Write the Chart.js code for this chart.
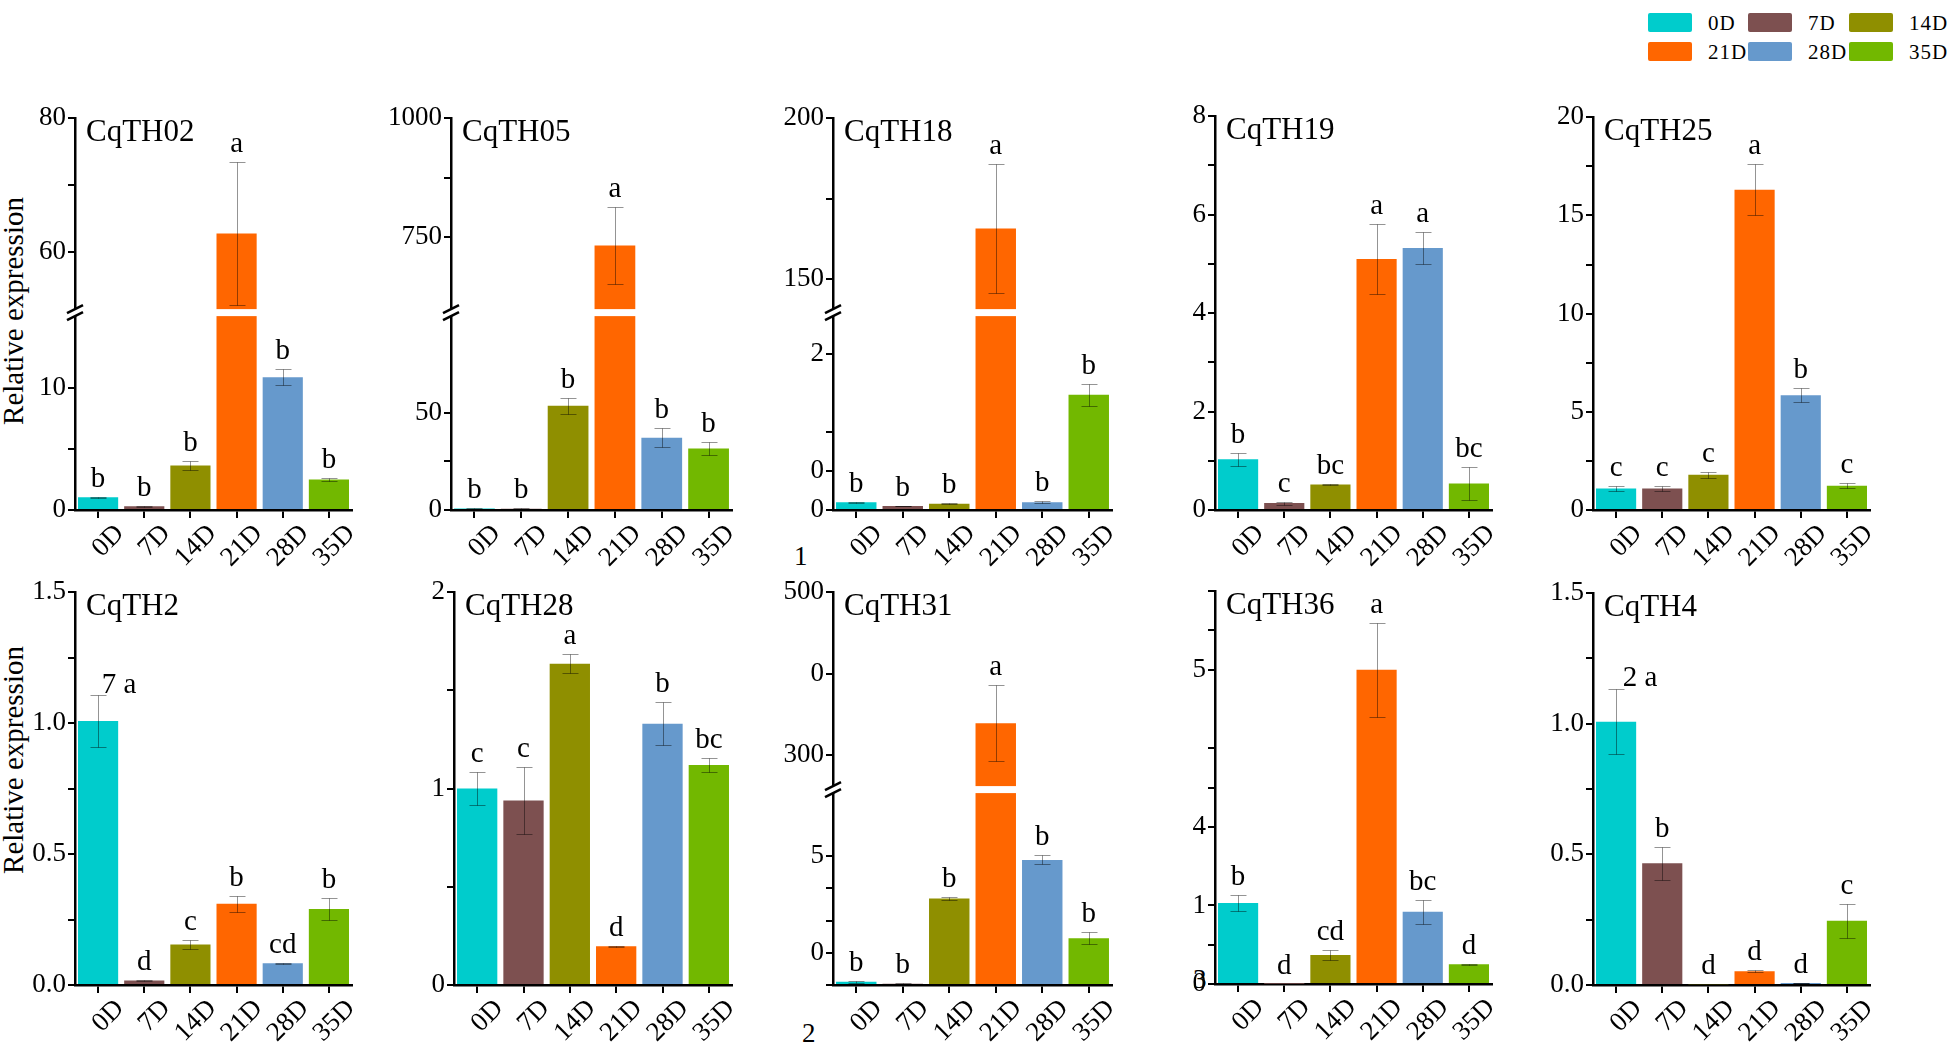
<!DOCTYPE html>
<html><head><meta charset="utf-8">
<script src="https://cdn.jsdelivr.net/npm/chart.js@4.4.0/dist/chart.umd.min.js"></script>
<style>
html,body{margin:0;padding:0;background:#fff}
body{width:1951px;height:1044px;position:relative;overflow:hidden;font-family:"Liberation Serif","DejaVu Serif",serif}
canvas{position:absolute}
.txt{position:absolute;color:#000;white-space:nowrap;line-height:1}
.sw{position:absolute;width:44px;height:19px;border-radius:2px}
.lt{position:absolute;font-family:"Liberation Serif","DejaVu Serif",serif;font-size:21px;letter-spacing:1px;line-height:20px;color:#000}
.ytitle{position:absolute;font-size:29px;transform:translate(-50%,-50%) rotate(-90deg);white-space:nowrap}
</style></head><body>
<div class="ytitle" style="left:13px;top:311px">Relative expression</div>
<div class="ytitle" style="left:13px;top:760px">Relative expression</div>
<div class="txt" style="left:794px;top:543px;font-size:27px">1</div>
<div class="txt" style="left:802px;top:1020px;font-size:27px">2</div>
<div class="txt" style="left:1193px;top:966px;font-size:27px">3</div>
<div id="legend"></div>
<script>
// ---------- data ----------
const categories = ['0D','7D','14D','21D','28D','35D'];
const barColors = ['#00cccc','#7d5050','#8f8f00','#ff6600','#6699cc','#72b800'];
const genes = ['CqTH02','CqTH05','CqTH18','CqTH19','CqTH25','CqTH2','CqTH28','CqTH31','CqTH36','CqTH4'];

const meanTH02 = [1.05, 0.3, 3.66, 62.8, 10.9, 2.5];
const sdTH02   = [0.05, 0.05, 0.4, 10.7, 0.65, 0.12];
const sigTH02  = ['b','b','b','a','b','b'];

const meanTH05 = [0.8, 0.7, 53.6, 733, 37.2, 31.6];
const sdTH05   = [0.15, 0.15, 4, 80, 4.9, 3.5];
const sigTH05  = ['b','b','b','a','b','b'];

const meanTH18 = [0.1, 0.05, 0.08, 165.7, 0.1, 1.48];
const sdTH18   = [0.005, 0.005, 0.005, 20, 0.01, 0.14];
const sigTH18  = ['b','b','b','a','b','b'];

const meanTH19 = [1.03, 0.14, 0.52, 5.1, 5.32, 0.54];
const sdTH19   = [0.13, 0.03, 0.015, 0.72, 0.32, 0.34];
const sigTH19  = ['b','c','bc','a','a','bc'];

const meanTH25 = [1.1, 1.1, 1.8, 16.3, 5.84, 1.24];
const sdTH25   = [0.13, 0.13, 0.15, 1.3, 0.35, 0.12];
const sigTH25  = ['c','c','c','a','b','c'];

const meanTH2 = [1.008, 0.017, 0.155, 0.31, 0.083, 0.29];
const sdTH2   = [0.1, 0.002, 0.017, 0.03, 0.002, 0.042];
const sigTH2  = ['7 a','d','c','b','cd','b'];

const meanTH28 = [1.0, 0.94, 1.636, 0.197, 1.33, 1.12];
const sdTH28   = [0.083, 0.17, 0.047, 0.004, 0.11, 0.035];
const sigTH28  = ['c','c','a','d','b','bc'];

const meanTH31 = [0.1, 0.04, 2.68, 339, 3.88, 1.45];
const sdTH31   = [0.03, 0.01, 0.05, 47, 0.14, 0.18];
const sigTH31  = ['b','b','b','a','b','b'];

const meanTH36 = [1.03, 0.003, 0.37, 4.0, 0.92, 0.25];
const sdTH36   = [0.1, 0, 0.06, 0.6, 0.15, 0.008];
const sigTH36  = ['b','d','cd','a','bc','d'];

const meanTH4 = [1.008, 0.466, 0.003, 0.053, 0.008, 0.246];
const sdTH4   = [0.125, 0.063, 0, 0.005, 0.001, 0.065];
const sigTH4  = ['2 a','b','d','d','d','c'];

// tick values / labels
const ticksTH02Low = [0, 5, 10];          const labelsTH02Low = ['0','','10'];
const ticksTH02High = [60, 70, 80];       const labelsTH02High = ['60','','80'];
const ticksTH05Low = [0, 25, 50];         const labelsTH05Low = ['0','','50'];
const ticksTH05High = [750, 875, 1000];   const labelsTH05High = ['750','','1000'];
const ticksTH18Low = [0, 0.5, 1, 2];      const labelsTH18Low = ['0','0','','2'];
const ticksTH18High = [150, 175, 200];    const labelsTH18High = ['150','','200'];
const ticksTH19 = [0,1,2,3,4,5,6,7,8];    const labelsTH19 = ['0','','2','','4','','6','','8'];
const ticksTH25 = [0,2.5,5,7.5,10,12.5,15,17.5,20]; const labelsTH25 = ['0','','5','','10','','15','','20'];
const ticksTH2 = [0,0.25,0.5,0.75,1,1.25,1.5];      const labelsTH2 = ['0.0','','0.5','','1.0','','1.5'];
const ticksTH28 = [0,0.5,1,1.5,2];        const labelsTH28 = ['0','','1','','2'];
const ticksTH31Low = [0,1,2,3,4];         const labelsTH31Low = ['','0','','','5'];
const ticksTH31High = [300,400,500];      const labelsTH31High = ['300','0','500'];
const ticksTH36 = [0,0.5,1,2,2.5,3,4,4.5,5]; const labelsTH36 = ['0','','1','4','','','5','',''];
const ticksTH4 = [0,0.25,0.5,0.75,1,1.25,1.5];      const labelsTH4 = ['0.0','','0.5','','1.0','','1.5'];

// ---------- panel layout ----------
const panels = [
 {gene:genes[0], mean:meanTH02, sd:sdTH02, sig:sigTH02, axisX:75,   right:352,  top:115, bottom:510, breakY:311,
  low:{min:0,max:16.2,ticks:ticksTH02Low,labels:labelsTH02Low}, high:{min:51,max:80,ticks:ticksTH02High,labels:labelsTH02High}},
 {gene:genes[1], mean:meanTH05, sd:sdTH05, sig:sigTH05, axisX:451,  right:732,  top:115, bottom:510, breakY:311,
  low:{min:0,max:101.5,ticks:ticksTH05Low,labels:labelsTH05Low}, high:{min:592,max:1000,ticks:ticksTH05High,labels:labelsTH05High}},
 {gene:genes[2], mean:meanTH18, sd:sdTH18, sig:sigTH18, axisX:833,  right:1112, top:115, bottom:510, breakY:311,
  low:{min:0,max:2.535,ticks:ticksTH18Low,labels:labelsTH18Low}, high:{min:139.5,max:200,ticks:ticksTH18High,labels:labelsTH18High}},
 {gene:genes[3], mean:meanTH19, sd:sdTH19, sig:sigTH19, axisX:1215, right:1492, top:113, bottom:510,
  low:{min:0,max:8,ticks:ticksTH19,labels:labelsTH19}},
 {gene:genes[4], mean:meanTH25, sd:sdTH25, sig:sigTH25, axisX:1593, right:1870, top:114, bottom:510,
  low:{min:0,max:20,ticks:ticksTH25,labels:labelsTH25}},
 {gene:genes[5], mean:meanTH2, sd:sdTH2, sig:sigTH2, axisX:75,   right:352,  top:589, bottom:985, shift:{0:[21,8]},
  low:{min:0,max:1.5,ticks:ticksTH2,labels:labelsTH2}},
 {gene:genes[6], mean:meanTH28, sd:sdTH28, sig:sigTH28, axisX:454,  right:732,  top:589, bottom:985,
  low:{min:0,max:2,ticks:ticksTH28,labels:labelsTH28}},
 {gene:genes[7], mean:meanTH31, sd:sdTH31, sig:sigTH31, axisX:833,  right:1112, top:589, bottom:985, breakY:788,
  low:{min:0,max:6.06,ticks:ticksTH31Low,labels:labelsTH31Low}, high:{min:257.3,max:500,ticks:ticksTH31High,labels:labelsTH31High}},
 {gene:genes[8], mean:meanTH36, sd:sdTH36, sig:sigTH36, axisX:1215, right:1492, top:588, bottom:984,
  low:{min:0,max:5,ticks:ticksTH36,labels:labelsTH36}},
 {gene:genes[9], mean:meanTH4, sd:sdTH4, sig:sigTH4, axisX:1593, right:1870, top:590, bottom:985, shift:{0:[24,7]},
  low:{min:0,max:1.5,ticks:ticksTH4,labels:labelsTH4}}
];

const Y_W = 75, X_H = 75, PAD_T = 15, PAD_R = 40;
const SERIF = '"Liberation Serif", "DejaVu Serif", serif';

// legend
(function(){
  const lg = document.getElementById('legend');
  const cx = [1648, 1748, 1849], ry = [13, 42];
  categories.forEach((c, i) => {
    const x = cx[i % 3], y = ry[Math.floor(i / 3)];
    const s = document.createElement('div'); s.className = 'sw';
    s.style.left = x + 'px'; s.style.top = y + 'px'; s.style.background = barColors[i];
    const t = document.createElement('div'); t.className = 'lt';
    t.style.left = (x + 60) + 'px'; t.style.top = y + 'px'; t.textContent = c;
    lg.appendChild(s); lg.appendChild(t);
  });
})();

function yAxis(seg, extra) {
  return Object.assign({
    type: 'linear', position: 'left', min: seg.min, max: seg.max,
    afterBuildTicks: s => { s.ticks = seg.ticks.map(v => ({value: v})); },
    afterFit: s => { s.width = Y_W; },
    ticks: { autoSkip: false, color: '#000', padding: 2, font: {family: SERIF, size: 27},
             callback: (v, i) => seg.labels[i] },
    grid: { drawOnChartArea: false, drawTicks: true, tickLength: 7, color: '#000', lineWidth: 2 },
    border: { display: true, color: '#000', width: 2.5 }
  }, extra || {});
}

const deco = {
  id: 'deco',
  afterDatasetsDraw(chart, args, o) {
    const p = o.panel;
    const ctx = chart.ctx, ca = chart.chartArea, xs = chart.scales.x;
    const yl = chart.scales.y, yh = chart.scales.yHigh;
    const pix = v => {
      if (yh && v >= yh.min) return yh.getPixelForValue(v);
      if (yh && v > yl.max) return yl.top;
      return yl.getPixelForValue(v);
    };
    ctx.save();
    if (yh) {
      const b = yl.top;
      ctx.fillStyle = '#fff';
      ctx.fillRect(ca.left - 2, b - 3.5, ca.right - ca.left + 2, 7);
      ctx.strokeStyle = '#000'; ctx.lineWidth = 2.5;
      for (const d of [-3.5, 3.5]) {
        ctx.beginPath(); ctx.moveTo(ca.left - 8, b + d + 4); ctx.lineTo(ca.left + 8, b + d - 4); ctx.stroke();
      }
    }
    // error bars
    ctx.strokeStyle = 'rgba(0,0,0,0.42)'; ctx.lineWidth = 1;
    p.mean.forEach((m, i) => {
      const s = p.sd[i]; if (!s) return;
      const x = Math.round(xs.getPixelForValue(i)) + 0.5;
      const yt = Math.round(pix(m + s)) + 0.5, yb = Math.round(pix(Math.max(0, m - s))) + 0.5;
      ctx.beginPath();
      ctx.moveTo(x, yt); ctx.lineTo(x, yb);
      ctx.moveTo(x - 8, yt); ctx.lineTo(x + 8, yt);
      ctx.moveTo(x - 8, yb); ctx.lineTo(x + 8, yb);
      ctx.stroke();
    });
    // significance letters
    ctx.fillStyle = '#000'; ctx.font = '29px ' + SERIF; ctx.textAlign = 'center'; ctx.textBaseline = 'alphabetic';
    p.sig.forEach((t, i) => {
      const sh = (p.shift && p.shift[i]) || [0, 0];
      const x = xs.getPixelForValue(i) + sh[0];
      const y = pix(p.mean[i] + p.sd[i]) - 10 + sh[1];
      ctx.fillText(t, x, y);
    });
    // panel title
    ctx.textAlign = 'left'; ctx.font = '31px ' + SERIF;
    ctx.fillText(p.gene, ca.left + 11, ca.top + 23);
    ctx.restore();
  }
};

panels.forEach(p => {
  const cv = document.createElement('canvas');
  const W = Y_W + (p.right - p.axisX) + PAD_R, H = PAD_T + (p.bottom - p.top) + X_H;
  cv.width = W; cv.height = H;
  cv.style.left = (p.axisX - Y_W) + 'px'; cv.style.top = (p.top - PAD_T) + 'px';
  document.body.appendChild(cv);

  const common = { backgroundColor: barColors, borderWidth: 0, barPercentage: 0.87, categoryPercentage: 1, grouped: false };
  const datasets = [];
  const scales = {
    x: {
      type: 'category', labels: categories, offset: true,
      afterFit: s => { s.height = X_H; },
      grid: { offset: false, drawOnChartArea: false, drawTicks: true, tickLength: 8, color: '#000', lineWidth: 2 },
      border: { display: true, color: '#000', width: 2.5 },
      ticks: { autoSkip: false, maxRotation: 45, minRotation: 45, color: '#000', padding: 0, labelOffset: 22,
               font: {family: SERIF, size: 27} }
    }
  };
  if (p.high) {
    datasets.push(Object.assign({ data: p.mean.map(v => Math.min(v, p.low.max)), yAxisID: 'y' }, common));
    datasets.push(Object.assign({ data: p.mean.map(v => v > p.high.min ? [p.high.min, v] : null), yAxisID: 'yHigh' }, common));
    scales.y = yAxis(p.low, { stack: 'ys', stackWeight: p.bottom - p.breakY, weight: 0 });
    scales.yHigh = yAxis(p.high, { stack: 'ys', stackWeight: p.breakY - p.top, weight: 1 });
  } else {
    datasets.push(Object.assign({ data: p.mean, yAxisID: 'y' }, common));
    scales.y = yAxis(p.low);
  }
  new Chart(cv, {
    type: 'bar',
    data: { labels: categories, datasets },
    options: {
      responsive: false, animation: false, devicePixelRatio: 1,
      layout: { autoPadding: false, padding: { top: PAD_T, right: PAD_R, left: 0, bottom: 0 } },
      plugins: { legend: { display: false }, tooltip: { enabled: false }, title: { display: false }, deco: { panel: p } },
      scales
    },
    plugins: [deco]
  });
});
</script>
</body></html>
